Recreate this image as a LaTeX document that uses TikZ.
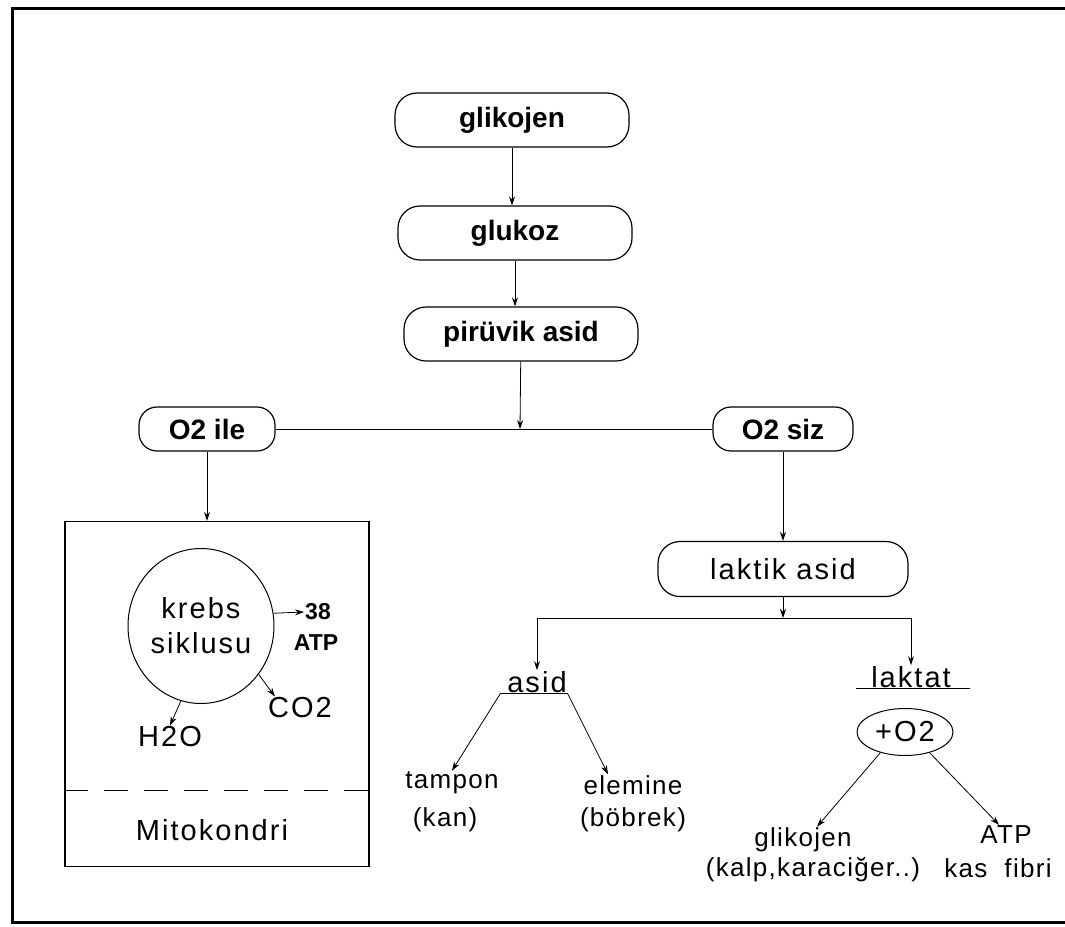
\documentclass[tikz,border=0pt]{standalone}
\usepackage{fontspec}
\setmainfont{Liberation Sans}
\newfontfamily\spacedfont[LetterSpace=7]{Liberation Sans}
\newfontfamily\spacedsmall[LetterSpace=5]{Liberation Sans}
\usetikzlibrary{shapes.geometric,arrows.meta}

\begin{document}
\begin{tikzpicture}[x=1pt, y=-1pt,
  stage/.style={draw, line width=1.2pt, rounded corners=22pt, minimum width=234pt,
    minimum height=54pt, inner sep=0pt, font=\fontsize{28}{32}\selectfont\bfseries},
  oxy/.style={draw, line width=1.2pt, rounded corners=18pt, minimum width=136pt,
    minimum height=44pt, inner sep=0pt, font=\fontsize{28}{32}\selectfont\bfseries},
  lbl/.style={inner sep=1pt, font=\fontsize{29}{35}\spacedfont},
  small/.style={inner sep=1pt, font=\fontsize{26}{30}\spacedsmall},
  tiny/.style={inner sep=1pt, font=\fontsize{23}{27}\selectfont\bfseries},
  arr/.style={-{Stealth[length=9pt,width=6pt]}, line width=0.8pt},
  line/.style={line width=0.8pt}]
\useasboundingbox (0,0) rectangle (1065,926);
% frame
\draw[line width=3pt] (1065,8) -- (12,8) -- (12,922) -- (1065,922);

% main chain
\node[stage] (glikojen) at (512,120) {glikojen};
\node[stage] (glukoz) at (515,233) {glukoz};
\node[stage] (piruvik) at (521,334) {pirüvik asid};
\node[oxy] (ile) at (207,429) {O2 ile};
\node[oxy, minimum width=140pt] (siz) at (783,429) {O2 siz};
\coordinate (fork) at (520,429);

% mitokondri
\node[draw, line width=1.2pt, minimum width=304pt, minimum height=345pt, inner sep=0pt] (mito) at (217,694) {};
\draw[line width=1pt, dash pattern=on 24pt off 16pt] (mito.west |- 0,790) -- (mito.east |- 0,790);
\node[lbl] (mitotxt) at (212,830) {Mitokondri};
\node[ellipse, draw, line width=1pt, minimum width=146pt, minimum height=155pt, inner sep=0pt,
  align=center, font=\fontsize{29}{35}\spacedfont] (krebs) at (201,626) {krebs\\siklusu};
\node[tiny] (n38) at (318,612) {38};
\node[tiny] (atp1) at (316,643) {ATP};
\node[lbl] (co2) at (300,708) {CO2};
\node[lbl] (h2o) at (170,737) {H2O};

% laktik asid side
\node[stage, font=\fontsize{29}{35}\spacedfont, minimum width=250pt, minimum height=55pt] (laktik) at (783,569) {laktik asid};
\coordinate (split) at (783,618);
\node[lbl] (asid) at (537,682) {asid};
\node[lbl] (laktat) at (911,677) {laktat};
\node[small] (tampon) at (452,783) {tampon};
\node[small] (kan) at (445,820) {(kan)};
\node[small] (elemine) at (633,785) {elemine};
\node[small] (bobrek) at (633,820) {(böbrek)};
\node[ellipse, draw, line width=1pt, minimum width=96pt, minimum height=47pt, inner sep=0pt,
  font=\fontsize{29}{35}\spacedfont] (plus) at (905,732) {+O2};
\node[small] (glikojenB) at (803,840) {glikojen};
\node[small] (kalp) at (813,870) {(kalp,karaciğer..)};
\node[small] (atp2) at (1006,835) {ATP};
\node[small] (kas) at (998,868) {kas\ \ fibri};

% connectors
\draw[arr] (glikojen) -- (glikojen |- glukoz.north);
\draw[arr] (glukoz) -- (glukoz |- piruvik.north);
\draw[arr] (piruvik) -- (fork);
\draw[line] (ile) -- (siz);
\draw[arr] (ile) -- (ile |- mito.north);
\draw[arr] (siz) -- (laktik);
\draw[arr] (krebs.10) -- (n38.west);
\draw[arr] (krebs.-40) -- ([xshift=8pt]co2.north west);
\draw[arr] (krebs.-105) -- (h2o.north);
\draw[arr] (laktik) -- (split);
\draw[arr] (split) -| (asid.north);
\draw[arr] (split) -| (laktat.north);
\draw[line] ([xshift=-6pt]asid.south west) -- (asid.south east);
\draw[arr] ([xshift=-6pt]asid.south west) -- (tampon.north);
\draw[arr] (asid.south east) -- ([xshift=-25pt]elemine.north);
\draw[line] ([xshift=-14pt]laktat.south west) -- ([xshift=18pt]laktat.south east);
\draw[arr] (plus.220) -- ([xshift=14pt]glikojenB.north);
\draw[arr] (plus.-40) -- ([xshift=-7pt]atp2.north);
\end{tikzpicture}
\end{document}
